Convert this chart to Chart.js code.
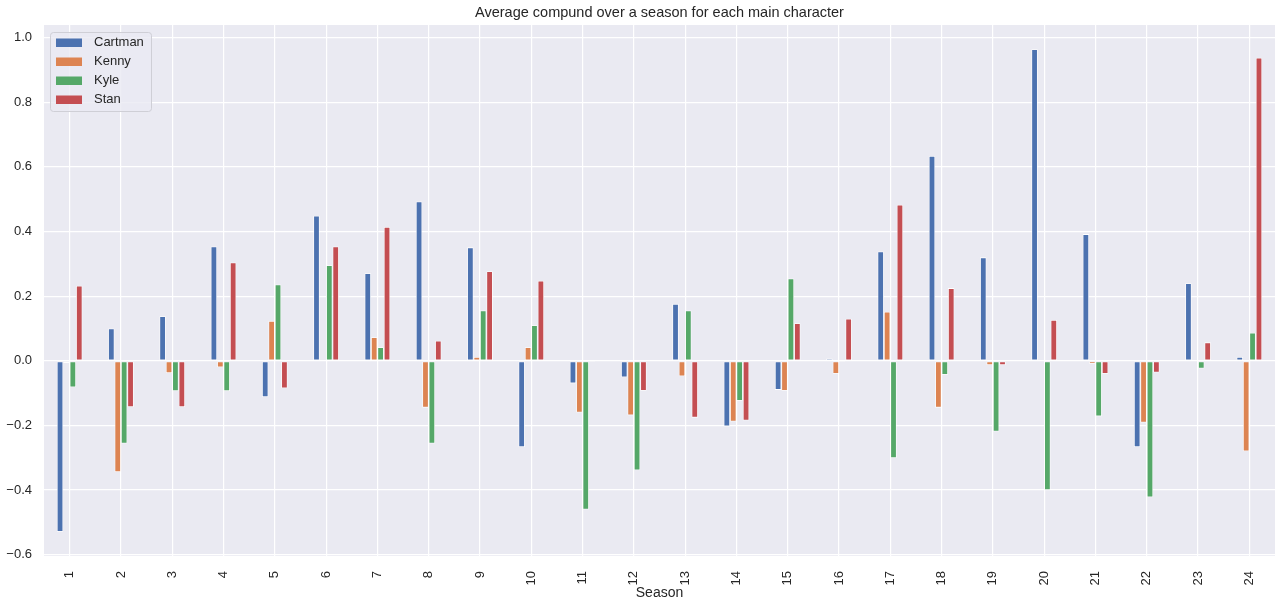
<!DOCTYPE html>
<html>
<head>
<meta charset="utf-8">
<script src="https://cdn.jsdelivr.net/npm/chart.js@4.4.1/dist/chart.umd.min.js"></script>
<style>
  html, body { margin: 0; padding: 0; background: #ffffff; }
  #wrap { width: 1285px; height: 607px; }
</style>
</head>
<body>
<div id="wrap"><canvas id="chart" width="1285" height="607"></canvas></div>
<script>
const seasons = ["1","2","3","4","5","6","7","8","9","10","11","12","13","14","15","16","17","18","19","20","21","22","23","24"];

const cartman = [-0.529, 0.100, 0.138, 0.354, -0.112, 0.449, 0.271, 0.493, 0.351, -0.267, -0.070, -0.051,
                 0.176, -0.203, -0.090, 0.007, 0.338, 0.634, 0.320, 0.964, 0.392, -0.267, 0.240, 0.012];
const kenny   = [-0.007, -0.344, -0.038, -0.020, 0.123, 0.000, 0.073, -0.145, 0.012, 0.042, -0.160, -0.169,
                 -0.048, -0.188, -0.093, -0.040, 0.152, -0.145, -0.013, 0.000, -0.009, -0.191, 0.000, -0.280];
const kyle    = [-0.082, -0.256, -0.094, -0.094, 0.236, 0.296, 0.042, -0.256, 0.156, 0.110, -0.460, -0.339,
                 0.156, -0.124, 0.255, -0.004, -0.301, -0.043, -0.219, -0.400, -0.172, -0.422, -0.024, 0.087];
const stan    = [0.232, -0.143, -0.143, 0.304, -0.085, 0.354, 0.414, 0.062, 0.277, 0.248, -0.004, -0.093,
                 -0.176, -0.185, 0.116, 0.130, 0.483, 0.225, -0.013, 0.126, -0.040, -0.036, 0.057, 0.938];

const yTicks = [-0.6, -0.4, -0.2, 0.0, 0.2, 0.4, 0.6, 0.8, 1.0];

const FONT = "'Liberation Sans', Arial, sans-serif";
const TEXT = "#262626";

// matplotlib-style legend drawn inside the plot area, top-left
const innerLegend = {
  id: "innerLegend",
  afterDraw(chart) {
    const ctx = chart.ctx;
    const a = chart.chartArea;
    const x = a.left + 6, y = a.top + 7, w = 101, h = 79;
    ctx.save();
    ctx.fillStyle = "rgba(234,234,242,0.8)";
    ctx.strokeStyle = "#cfcfd6";
    ctx.lineWidth = 1;
    ctx.beginPath();
    ctx.roundRect(x + 0.5, y + 0.5, w, h, 3);
    ctx.fill();
    ctx.stroke();
    ctx.font = "13px " + FONT;
    ctx.textBaseline = "middle";
    chart.data.datasets.forEach((ds, i) => {
      const cy = y + 10.5 + i * 19;
      ctx.fillStyle = ds.backgroundColor;
      ctx.fillRect(x + 6, cy - 4, 26, 8.5);
      ctx.fillStyle = TEXT;
      ctx.fillText(ds.label, x + 44, cy);
    });
    ctx.restore();
  }
};

// plot background
const plotBg = {
  id: "plotBg",
  beforeDraw(chart) {
    const a = chart.chartArea;
    chart.ctx.save();
    chart.ctx.fillStyle = "#eaeaf2";
    chart.ctx.fillRect(a.left, a.top, a.right - a.left, a.bottom - a.top);
    chart.ctx.restore();
  }
};

function ds(label, data, color) {
  return {
    label: label,
    data: data,
    backgroundColor: color,
    borderColor: "#ffffff",
    borderWidth: 0.8,
    borderSkipped: false,
    categoryPercentage: 0.5,
    barPercentage: 1.0
  };
}

new Chart(document.getElementById("chart"), {
  type: "bar",
  data: {
    labels: seasons,
    datasets: [
      ds("Cartman", cartman, "#4c72b0"),
      ds("Kenny", kenny, "#dd8452"),
      ds("Kyle", kyle, "#55a868"),
      ds("Stan", stan, "#c44e52")
    ]
  },
  options: {
    responsive: false,
    animation: false,
    layout: { padding: { left: 0, right: 10, top: 0, bottom: 0 } },
    plugins: {
      legend: { display: false },
      tooltip: { enabled: false },
      title: {
        display: true,
        fullSize: false,
        text: "Average compund over a season for each main character",
        color: TEXT,
        font: { family: FONT, size: 14.5, weight: "normal" },
        padding: { top: 4, bottom: 3.6 }
      }
    },
    scales: {
      x: {
        offset: true,
        grid: { color: "#ffffff", lineWidth: 1.2, offset: false, drawTicks: false },
        border: { display: false },
        ticks: {
          color: TEXT,
          font: { family: FONT, size: 13 },
          minRotation: 90,
          maxRotation: 90,
          padding: 15
        },
        title: {
          display: true,
          text: "Season",
          color: TEXT,
          font: { family: FONT, size: 14 },
          padding: { top: 0, bottom: 5 }
        },
        afterFit(scale) { scale.height = 51; }
      },
      y: {
        min: -0.604,
        max: 1.039,
        grid: { color: "#ffffff", lineWidth: 1.2, drawTicks: false },
        border: { display: false },
        ticks: {
          color: TEXT,
          font: { family: FONT, size: 13 },
          padding: 12,
          callback: v => v.toFixed(1).replace("-", "\u2212")
        },
        afterBuildTicks(scale) { scale.ticks = yTicks.map(v => ({ value: v })); },
        afterFit(scale) { scale.width = 44; }
      }
    }
  },
  plugins: [plotBg, innerLegend]
});
</script>
</body>
</html>
